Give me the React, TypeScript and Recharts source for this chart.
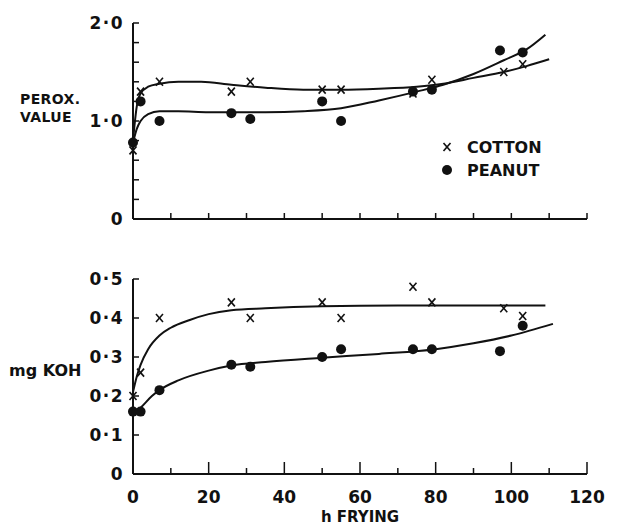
import { ComposedChart, Line, Scatter, XAxis, YAxis, Legend } from 'recharts';

// measured hours of frying
const cottonHours = [0, 2, 7, 26, 31, 50, 55, 74, 79, 98, 103];
const peanutHours = [0, 2, 7, 26, 31, 50, 55, 74, 79, 97, 103];

// peroxide value
const cottonPerox = [0.7, 1.3, 1.4, 1.3, 1.4, 1.32, 1.32, 1.28, 1.42, 1.5, 1.58];
const peanutPerox = [0.78, 1.2, 1.0, 1.08, 1.02, 1.2, 1.0, 1.3, 1.32, 1.72, 1.7];

// acid value, mg KOH
const cottonKoh = [0.2, 0.26, 0.4, 0.44, 0.4, 0.44, 0.4, 0.48, 0.44, 0.425, 0.405];
const peanutKoh = [0.16, 0.16, 0.215, 0.28, 0.275, 0.3, 0.32, 0.32, 0.32, 0.315, 0.38];

// fitted curves as drawn in the figure
const cottonPeroxFitX = [0, 1, 2, 4, 7, 12, 18, 26, 35, 45, 55, 65, 75, 82, 90, 98, 104, 110];
const cottonPeroxFitY = [0.8, 1.15, 1.28, 1.35, 1.38, 1.4, 1.4, 1.37, 1.34, 1.32, 1.32, 1.33, 1.35, 1.38, 1.44, 1.5, 1.56, 1.63];
const peanutPeroxFitX = [0, 1, 2, 4, 7, 12, 20, 26, 35, 45, 55, 65, 75, 82, 90, 98, 104, 109];
const peanutPeroxFitY = [0.78, 0.92, 1.0, 1.07, 1.1, 1.1, 1.09, 1.09, 1.09, 1.1, 1.13, 1.21, 1.3, 1.37, 1.48, 1.62, 1.73, 1.88];
const cottonKohFitX = [0, 1, 2, 4, 7, 10, 15, 20, 26, 35, 50, 70, 80, 95, 109];
const cottonKohFitY = [0.21, 0.25, 0.28, 0.32, 0.355, 0.375, 0.395, 0.41, 0.42, 0.425, 0.43, 0.432, 0.432, 0.432, 0.432];
const peanutKohFitX = [0, 2, 5, 7, 12, 20, 26, 35, 50, 65, 80, 90, 100, 111];
const peanutKohFitY = [0.155, 0.17, 0.2, 0.215, 0.24, 0.265, 0.278, 0.287, 0.298, 0.308, 0.32, 0.335, 0.355, 0.385];

const xTicks = [0, 10, 20, 30, 40, 50, 60, 70, 80, 90, 100, 110, 120];
const xLabels: Record<number, string> = { 0: '0', 20: '20', 40: '40', 60: '60', 80: '80', 100: '100', 120: '120' };
const peroxTicks = [0, 0.2, 0.4, 0.6, 0.8, 1, 1.2, 1.4, 1.6, 1.8, 2];
const peroxLabels: Record<string, string> = { '0': '0', '1': '1·0', '2': '2·0' };
const kohTicks = [0, 0.1, 0.2, 0.3, 0.4, 0.5];
const kohLabels: Record<string, string> = { '0': '0', '0.1': '0·1', '0.2': '0·2', '0.3': '0·3', '0.4': '0·4', '0.5': '0·5' };

const pts = (xs: number[], ys: number[]) => xs.map((x, i) => ({ x, y: ys[i] }));

const FONT = '"DejaVu Sans", sans-serif';
const INK = '#111';

const Cross = (p: any) => (
  <g stroke={INK} strokeWidth={1.6}>
    <line x1={p.cx - 3.5} y1={p.cy - 4} x2={p.cx + 3.5} y2={p.cy + 4} />
    <line x1={p.cx + 3.5} y1={p.cy - 4} x2={p.cx - 3.5} y2={p.cy + 4} />
  </g>
);
const Dot = (p: any) => <circle cx={p.cx} cy={p.cy} r={5} fill={INK} />;

const yTick = (labels: Record<string, string>) => (p: any) => {
  const v = String(+Number(p.payload.value).toFixed(2));
  return (
    <g>
      <line x1={p.x} y1={p.y} x2={p.x + 6} y2={p.y} stroke={INK} strokeWidth={1.5} />
      {labels[v] && (
        <text x={p.x - 9} y={p.y + 6} textAnchor="end" fontFamily={FONT} fontWeight="bold" fontSize={17} letterSpacing={1.5} fill={INK}>
          {labels[v]}
        </text>
      )}
    </g>
  );
};

const xTick = (showLabels: boolean, major: number) => (p: any) => {
  const v = p.payload.value;
  const len = xLabels[v] !== undefined && v !== 0 ? major : 6;
  return (
    <g>
      {v !== 0 && <line x1={p.x} y1={p.y} x2={p.x} y2={p.y - len} stroke={INK} strokeWidth={1.5} />}
      {showLabels && xLabels[v] && (
        <text x={p.x} y={p.y + 29} textAnchor="middle" fontFamily={FONT} fontWeight="bold" fontSize={17} fill={INK}>
          {xLabels[v]}
        </text>
      )}
    </g>
  );
};

const legendContent = () => (
  <svg width={150} height={50} style={{ display: 'block' }}>
    <Cross cx={6} cy={11} />
    <circle cx={6} cy={34} r={5} fill={INK} />
    <text x={26} y={17} fontFamily={FONT} fontWeight="bold" fontSize={16} fill={INK}>COTTON</text>
    <text x={26} y={40} fontFamily={FONT} fontWeight="bold" fontSize={16} fill={INK}>PEANUT</text>
  </svg>
);

const axisLine = { stroke: INK, strokeWidth: 2 };

export default function App() {
  return (
    <div style={{ position: 'absolute', left: 0, top: 0, width: 632, height: 525, background: '#fff' }}>
      <div style={{ position: 'absolute', left: 0, top: 0 }}>
        <ComposedChart width={632} height={232} margin={{ top: 23, right: 45, bottom: 3, left: 73 }}>
          <XAxis type="number" dataKey="x" domain={[0, 120]} ticks={xTicks} interval={0} tickSize={0} tickMargin={0} height={10}
            axisLine={axisLine} tick={xTick(false, 6)} />
          <YAxis type="number" dataKey="y" domain={[0, 2]} ticks={peroxTicks} interval={0} tickSize={0} tickMargin={0} width={60}
            axisLine={axisLine} tick={yTick(peroxLabels)}
            label={{ content: () => (
              <g fontFamily={FONT} fontWeight="bold" fontSize={14} fill={INK} letterSpacing={0.4}>
                <text x={20} y={104}>PEROX.</text>
                <text x={20} y={122}>VALUE</text>
              </g>
            ) }} />
          <Legend layout="vertical" align="center" verticalAlign="middle" content={legendContent}
            wrapperStyle={{ left: 441, top: 136, width: 150, height: 50 }} />
          <Line data={pts(cottonPeroxFitX, cottonPeroxFitY)} dataKey="y" type="monotone" stroke={INK} strokeWidth={2} dot={false} isAnimationActive={false} legendType="none" />
          <Line data={pts(peanutPeroxFitX, peanutPeroxFitY)} dataKey="y" type="monotone" stroke={INK} strokeWidth={2} dot={false} isAnimationActive={false} legendType="none" />
          <Scatter name="COTTON" data={pts(cottonHours, cottonPerox)} dataKey="y" shape={Cross} isAnimationActive={false} />
          <Scatter name="PEANUT" data={pts(peanutHours, peanutPerox)} dataKey="y" shape={Dot} isAnimationActive={false} />
        </ComposedChart>
      </div>
      <div style={{ position: 'absolute', left: 0, top: 240 }}>
        <ComposedChart width={632} height={285} margin={{ top: 39, right: 45, bottom: 3, left: 73 }}>
          <XAxis type="number" dataKey="x" domain={[0, 120]} ticks={xTicks} interval={0} tickSize={0} tickMargin={0} height={48}
            axisLine={axisLine} tick={xTick(true, 12)}
            label={{ value: 'h FRYING', position: 'insideBottom', offset: 0, fontFamily: FONT, fontWeight: 'bold', fontSize: 15, fill: INK }} />
          <YAxis type="number" dataKey="y" domain={[0, 0.5]} ticks={kohTicks} interval={0} tickSize={0} tickMargin={0} width={60}
            axisLine={axisLine} tick={yTick(kohLabels)}
            label={{ content: () => (
              <text x={9} y={136} fontFamily={FONT} fontWeight="bold" fontSize={16} fill={INK}>mg KOH</text>
            ) }} />
          <Line data={pts(cottonKohFitX, cottonKohFitY)} dataKey="y" type="monotone" stroke={INK} strokeWidth={2} dot={false} isAnimationActive={false} />
          <Line data={pts(peanutKohFitX, peanutKohFitY)} dataKey="y" type="monotone" stroke={INK} strokeWidth={2} dot={false} isAnimationActive={false} />
          <Scatter data={pts(cottonHours, cottonKoh)} dataKey="y" shape={Cross} isAnimationActive={false} />
          <Scatter data={pts(peanutHours, peanutKoh)} dataKey="y" shape={Dot} isAnimationActive={false} />
        </ComposedChart>
      </div>
    </div>
  );
}
